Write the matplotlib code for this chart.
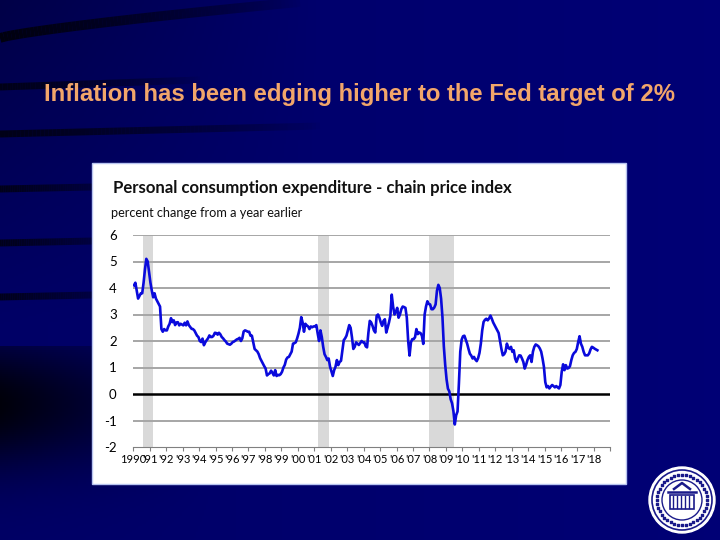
import numpy as np
import matplotlib.pyplot as plt
from matplotlib.patches import Rectangle, Circle
from matplotlib.collections import LineCollection

# PCE chain price index, percent change from a year earlier (monthly, Jan 1990 - Mar 2018)
pce_1990s = [
    4.1, 4.2, 3.9, 3.6, 3.7, 3.8, 3.8, 4.2, 4.7, 5.1, 5.0, 4.6,      # 1990
    4.2, 3.9, 3.65, 3.8, 3.6, 3.5, 3.4, 3.3, 2.45, 2.35, 2.45, 2.4,  # 1991
    2.4, 2.55, 2.65, 2.86, 2.71, 2.78, 2.6, 2.7, 2.71, 2.59, 2.65, 2.62,  # 1992
    2.59, 2.69, 2.59, 2.74, 2.6, 2.53, 2.46, 2.45, 2.4, 2.3, 2.2, 2.15,   # 1993
    2.0, 1.96, 2.09, 1.84, 1.95, 2.03, 2.1, 2.21, 2.15, 2.15, 2.2, 2.31,  # 1994
    2.3, 2.24, 2.31, 2.25, 2.15, 2.1, 2.03, 1.98, 1.9, 1.88, 1.86, 1.9,   # 1995
    1.96, 1.98, 2.02, 2.06, 2.08, 2.12, 2.0, 2.1, 2.36, 2.4, 2.38, 2.35,  # 1996
    2.35, 2.2, 2.2, 1.95, 1.7, 1.65, 1.6, 1.5, 1.35, 1.25, 1.15, 1.05,    # 1997
    0.96, 0.7, 0.75, 0.78, 0.88, 0.8, 0.7, 0.9, 0.68, 0.72, 0.71, 0.75,   # 1998
    0.84, 1.0, 1.1, 1.3, 1.38, 1.4, 1.5, 1.6, 1.9, 1.92, 1.95, 2.1,       # 1999
]
pce_2000s = [
    2.28, 2.5, 2.9, 2.7, 2.35, 2.65, 2.59, 2.55, 2.45, 2.55, 2.52, 2.55,  # 2000
    2.55, 2.6, 2.28, 2.0, 2.4, 2.15, 1.78, 1.5, 1.4, 1.28, 1.34, 1.03,    # 2001
    0.85, 0.68, 0.9, 1.03, 1.28, 1.09, 1.21, 1.25, 1.65, 2.03, 2.1, 2.2,  # 2002
    2.4, 2.6, 2.5, 2.14, 1.7, 1.78, 1.95, 1.9, 1.85, 1.92, 2.0, 1.95,     # 2003
    1.95, 1.8, 1.76, 2.32, 2.76, 2.7, 2.57, 2.4, 2.32, 2.95, 3.0, 2.88,   # 2004
    2.7, 2.57, 2.76, 2.82, 2.32, 2.5, 2.7, 2.95, 3.75, 3.3, 3.0, 3.1,     # 2005
    3.25, 2.88, 3.0, 3.2, 3.3, 3.28, 3.25, 2.88, 2.0, 1.45, 1.95, 2.07,   # 2006
    2.07, 2.14, 2.45, 2.26, 2.32, 2.3, 2.2, 1.89, 3.0, 3.3, 3.5, 3.4,     # 2007
    3.38, 3.2, 3.2, 3.26, 3.38, 3.9, 4.12, 4.0, 3.6, 2.9, 1.8, 1.1,       # 2008
    0.55, 0.2, 0.1, -0.2, -0.35, -0.65, -1.15, -0.8, -0.66, 0.4, 1.6, 2.05,  # 2009
]
pce_2010s = [
    2.18, 2.2, 2.05, 1.9, 1.7, 1.52, 1.45, 1.34, 1.4, 1.3, 1.24, 1.35,    # 2010
    1.55, 1.9, 2.4, 2.72, 2.8, 2.84, 2.78, 2.85, 2.96, 2.84, 2.7, 2.6,    # 2011
    2.5, 2.4, 2.3, 2.0, 1.7, 1.46, 1.5, 1.6, 1.9, 1.75, 1.7, 1.78,        # 2012
    1.59, 1.65, 1.34, 1.21, 1.35, 1.46, 1.45, 1.34, 1.21, 0.96, 1.1, 1.28,  # 2013
    1.4, 1.46, 1.21, 1.6, 1.78, 1.87, 1.84, 1.8, 1.72, 1.6, 1.34, 1.03,   # 2014
    0.45, 0.25, 0.3, 0.21, 0.28, 0.34, 0.3, 0.25, 0.3, 0.25, 0.21, 0.34,  # 2015
    0.84, 1.12, 0.9, 1.09, 0.96, 0.98, 1.05, 1.28, 1.46, 1.55, 1.59, 1.7,  # 2016
    1.96, 2.18, 1.9, 1.78, 1.59, 1.46, 1.46, 1.46, 1.53, 1.68, 1.78, 1.75,  # 2017
    1.71, 1.68, 1.65,                                                     # 2018
]
recessions = [(1990.58, 1991.2), (2001.2, 2001.9), (2007.95, 2009.5)]
tick_years = list(range(1990, 2019))
tick_labels = ["1990"] + ["'%02d" % (y % 100) for y in range(1991, 2019)]
y_ticks = [-2, -1, 0, 1, 2, 3, 4, 5, 6]

pce = np.array(pce_1990s + pce_2000s + pce_2010s)
dates = 1990 + np.arange(len(pce)) / 12 + 1 / 24

fig = plt.figure(figsize=(7.2, 5.4), dpi=100)

# slide background: dark navy with darker swooshes on the left
bg = fig.add_axes([0, 0, 1, 1])
xx, yy = np.meshgrid(np.linspace(0, 1, 360), np.linspace(0, 1, 270))
blue = 0.40 + 0.06 * xx
blue = blue - 0.12 * np.clip(1 - xx / 0.45, 0, 1) * np.clip(1 - yy / 0.6, 0, 1)
# dark shadow on lower left, fading right and down
shadow = np.exp(-((yy - 0.75) / 0.12) ** 2) * np.clip(1 - xx / 0.3, 0, 1)
shadow[yy < 0.64] *= 0
blue = blue * (1 - 0.9 * shadow)
img = np.zeros((270, 360, 3))
img[..., 2] = blue
bg.imshow(img, extent=[0, 720, 540, 0], aspect='auto')
bg.set_xlim(0, 720)
bg.set_ylim(540, 0)
bg.axis('off')


def swoosh(x0, x1, y0, y1, lw, alpha, power=1.0):
    xs = np.linspace(x0, x1, 80)
    t = (xs - x0) / (x1 - x0)
    ys = y0 + (y1 - y0) * t ** power
    pts = np.array([xs, ys]).T.reshape(-1, 1, 2)
    segs = np.concatenate([pts[:-1], pts[1:]], axis=1)
    cols = [(0, 0, 0.03, alpha * (1 - ti) ** 0.7) for ti in t[:-1]]
    bg.add_collection(LineCollection(segs, colors=cols, linewidths=lw, capstyle='butt'))


swoosh(0, 300, 38, 2, 7, 0.9, 0.8)
swoosh(0, 200, 87, 80, 5, 0.8)
swoosh(0, 320, 134, 126, 5, 0.8)
swoosh(0, 140, 189, 186, 5, 0.8)
swoosh(0, 140, 243, 240, 5, 0.8)
swoosh(0, 140, 297, 294, 5, 0.8)

fig.text(359 / 720, 1 - 95 / 540, "Inflation has been edging higher to the Fed target of 2%",
         color='#F2A66A', fontsize=17.2, fontweight='bold', family='Liberation Sans',
         ha='center', va='center')

# white chart panel
panel = Rectangle((92 / 720, 1 - 484 / 540), (626 - 92) / 720, (484 - 163) / 540,
                  transform=fig.transFigure, facecolor='white', edgecolor='#B8C4F0',
                  linewidth=1.0, zorder=1)
fig.patches.append(panel)

fig.text(113 / 720, 1 - 188 / 540, "Personal consumption expenditure - chain price index",
         fontsize=12.1, fontweight='bold', family='Lato', color='#111111', va='center', zorder=3)
fig.text(111 / 720, 1 - 213 / 540, "percent change from a year earlier",
         fontsize=9.2, family='Lato', color='#111111', va='center', zorder=3)

ax = fig.add_axes([133.3 / 720, 1 - 447 / 540, (610.4 - 133.3) / 720, (447 - 235) / 540])
ax.set_zorder(2)
ax.patch.set_alpha(0)

for start, end in recessions:
    ax.axvspan(start, end, color='#D9D9D9', lw=0, zorder=0)

for v in y_ticks:
    if v == -2:
        continue
    if v == 0:
        ax.axhline(v, color='black', lw=1.8, zorder=1)
    else:
        ax.axhline(v, color='#A6A6A6', lw=1.4, zorder=1)

ax.plot(dates, pce, color='#0A0ADC', lw=1.9, zorder=3)

ax.set_xlim(1990, 2019)
ax.set_ylim(-2, 6)
ax.set_yticks(y_ticks)
ax.set_yticklabels([str(v) for v in y_ticks], family='Lato', fontsize=9.5)
ax.set_xticks(tick_years + [2019])
ax.set_xticklabels(tick_labels + [""], family='Lato', fontsize=8.0)
ax.tick_params(axis='y', length=0, pad=12)
ax.tick_params(axis='x', length=3, width=0.8, color='#808080', pad=2, direction='out')
for side in ['top', 'right', 'left']:
    ax.spines[side].set_visible(False)
ax.spines['bottom'].set_color('#808080')
ax.spines['bottom'].set_linewidth(0.8)

# Federal Reserve seal (simplified)
seal_c = (682, 500)
bg.add_patch(Circle(seal_c, 33, facecolor='white', edgecolor='white', zorder=5))
bg.add_patch(Circle(seal_c, 30, facecolor='none', edgecolor='#1a1a8a', lw=1.2, zorder=6))
bg.add_patch(Circle(seal_c, 20, facecolor='white', edgecolor='#1a1a8a', lw=1.0, zorder=6))
theta = np.linspace(0, 2 * np.pi, 40, endpoint=False)
bg.scatter(seal_c[0] + 25 * np.cos(theta), seal_c[1] + 25 * np.sin(theta),
           s=3, marker='s', color='#1a1a8a', zorder=7)
bg.add_patch(Rectangle((670, 495), 24, 14, facecolor='none', edgecolor='#1a1a8a', lw=1.2, zorder=7))
for xv in range(673, 693, 4):
    bg.plot([xv, xv], [496, 508], color='#1a1a8a', lw=1.0, zorder=7)
bg.plot([668, 696], [492, 492], color='#1a1a8a', lw=1.8, zorder=7)
bg.plot([674, 682, 690], [489, 483, 489], color='#1a1a8a', lw=1.8, zorder=7)

fig.savefig('out.png', dpi=100)
